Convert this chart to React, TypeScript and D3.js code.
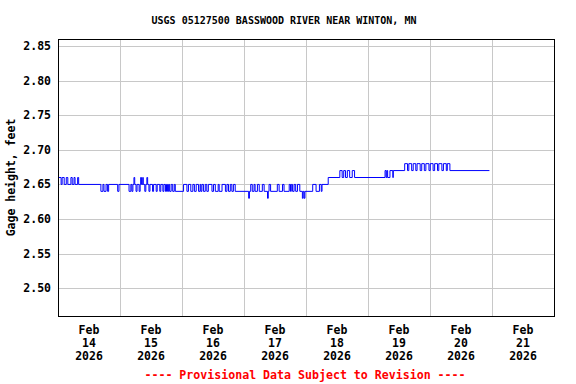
import React from 'react';
import * as d3 from 'd3';

// gage height change points: [hours since Feb 14 00:00, feet]
const feb14: [number, number][] = [
  [0, 2.66], [1.2, 2.65], [1.6, 2.66], [2.4, 2.65], [3.2, 2.66], [3.8, 2.65], [5.0, 2.66], [5.5, 2.65],
  [6.2, 2.66], [6.6, 2.65], [7.6, 2.66], [8.0, 2.65], [16.6, 2.64], [17.4, 2.65], [17.8, 2.64], [18.6, 2.65],
  [19.2, 2.64], [19.6, 2.65], [23.1, 2.64], [23.6, 2.65],
];
const feb15: [number, number][] = [
  [27.5, 2.64], [28.2, 2.65], [28.6, 2.64], [29.0, 2.65], [29.4, 2.66], [29.7, 2.65], [30.2, 2.64], [30.6, 2.65],
  [31.4, 2.64], [31.8, 2.65], [32.0, 2.66], [32.3, 2.65], [32.8, 2.66], [33.0, 2.65], [33.6, 2.64], [34.0, 2.65],
  [34.4, 2.66], [34.7, 2.65], [35.2, 2.64], [35.6, 2.65], [36.6, 2.64], [37.0, 2.65], [38.0, 2.64], [38.4, 2.65],
  [39.4, 2.64], [39.8, 2.65], [40.6, 2.64], [41.0, 2.65], [41.6, 2.64], [42.0, 2.65], [42.4, 2.64], [42.8, 2.65],
  [43.2, 2.64], [43.8, 2.65], [44.4, 2.64], [45.0, 2.65], [45.4, 2.64],
];
const feb16: [number, number][] = [
  [48.6, 2.65], [49.9, 2.64], [50.5, 2.65], [51.4, 2.64], [52.2, 2.65], [52.8, 2.64], [53.5, 2.65],
  [54.4, 2.64], [55.0, 2.65], [55.3, 2.64], [55.7, 2.65], [56.3, 2.64], [57.0, 2.65], [57.6, 2.64], [58.2, 2.65],
  [59.6, 2.64], [60.2, 2.65], [60.9, 2.64], [62.0, 2.65], [62.4, 2.64], [63.5, 2.65], [64.8, 2.64], [65.4, 2.65],
  [66.0, 2.64], [66.7, 2.65], [67.3, 2.64], [67.9, 2.65], [68.6, 2.64],
];
const feb17: [number, number][] = [
  [73.8, 2.63], [74.1, 2.64], [74.6, 2.65], [75.2, 2.64], [75.9, 2.65], [76.3, 2.64], [77.2, 2.65], [77.9, 2.64],
  [79.1, 2.65], [79.8, 2.64], [81.1, 2.63], [81.4, 2.64], [81.7, 2.65], [82.3, 2.64], [84.9, 2.65], [85.6, 2.64],
  [86.9, 2.65], [87.5, 2.64], [89.5, 2.65], [90.0, 2.64], [90.3, 2.65], [90.8, 2.64], [91.4, 2.65], [92.0, 2.64],
  [92.7, 2.65], [93.6, 2.64], [94.6, 2.63], [94.9, 2.64], [95.3, 2.63], [95.6, 2.64],
];
const feb18: [number, number][] = [
  [98.6, 2.65], [99.9, 2.64], [101.2, 2.65], [101.9, 2.64], [102.2, 2.65], [104.6, 2.66], [109.1, 2.67], [110.0, 2.66],
  [110.6, 2.67], [111.3, 2.66], [112.0, 2.67], [112.9, 2.66], [113.9, 2.67], [114.8, 2.66],
];
const feb19: [number, number][] = [
  [126.6, 2.67], [127.0, 2.66], [127.3, 2.67], [127.6, 2.66], [128.5, 2.67], [129.6, 2.66], [129.8, 2.67],
  [134.2, 2.68], [135.3, 2.67], [135.8, 2.68], [136.9, 2.67], [137.5, 2.68], [138.5, 2.67], [139.0, 2.68],
  [140.2, 2.67], [140.8, 2.68], [141.8, 2.67], [142.4, 2.68], [143.6, 2.67],
];
const feb20: [number, number][] = [
  [144.1, 2.68], [145.2, 2.67], [145.8, 2.68], [146.9, 2.67], [147.4, 2.68], [148.6, 2.67], [149.2, 2.68],
  [150.3, 2.67], [150.7, 2.68], [151.7, 2.67], [167.0, 2.67],
];

const yTicks = [2.5, 2.55, 2.6, 2.65, 2.7, 2.75, 2.8, 2.85];
const dayLabels = ['14', '15', '16', '17', '18', '19', '20', '21'];
const startDay = new Date(2026, 1, 14);
const endDay = new Date(2026, 1, 22);

const title = 'USGS 05127500 BASSWOOD RIVER NEAR WINTON, MN';
const yLabel = 'Gage height, feet';
const footer = '---- Provisional Data Subject to Revision ----';

const font = '"DejaVu Sans Mono", monospace';

export default function App() {
  const left = 58, right = 554, top = 39, bottom = 316;

  const x = d3.scaleTime().domain([startDay, endDay]).range([left, right]);
  const y = d3.scaleLinear().domain([2.46, 2.86]).range([bottom, top]);

  const points = [...feb14, ...feb15, ...feb16, ...feb17, ...feb18, ...feb19, ...feb20].map(([h, v]) => ({
    t: d3.timeMinute.offset(startDay, Math.round(h * 60)),
    v,
  }));

  const line = d3
    .line<{ t: Date; v: number }>()
    .x((d) => x(d.t))
    .y((d) => y(d.v))
    .curve(d3.curveStepAfter);

  const days = d3.timeDay.range(startDay, endDay);

  return (
    <svg
      width={576}
      height={384}
      style={{ position: 'absolute', left: 0, top: 0, background: '#fff' }}
      fontFamily={font}
      fontWeight="bold"
    >
      <rect width={576} height={384} fill="#fff" />
      <text x={284} y={24} textAnchor="middle" fontSize={10}>
        {title}
      </text>

      {/* grid */}
      {yTicks.map((v) => (
        <line key={v} x1={left} x2={right} y1={Math.round(y(v)) + 0.5} y2={Math.round(y(v)) + 0.5} stroke="#c8c8c8" />
      ))}
      {days.slice(1).map((d) => (
        <line key={+d} x1={Math.round(x(d)) + 0.5} x2={Math.round(x(d)) + 0.5} y1={top} y2={bottom} stroke="#c8c8c8" />
      ))}

      <path d={line(points) ?? ''} fill="none" stroke="#0000ff" strokeWidth={1} />

      <rect x={left + 0.5} y={top + 0.5} width={right - left} height={bottom - top} fill="none" stroke="#000" />

      {/* y axis */}
      {yTicks.map((v) => (
        <text key={v} x={51} y={y(v) + 4} textAnchor="end" fontSize={11.5}>
          {v.toFixed(2)}
        </text>
      ))}
      <text transform={`translate(15,${(top + bottom) / 2}) rotate(-90)`} textAnchor="middle" fontSize={11.5}>
        {yLabel}
      </text>

      {/* x axis labels at noon */}
      {days.map((d, i) => {
        const cx = x(d3.timeHour.offset(d, 12));
        return (
          <text key={+d} x={cx} textAnchor="middle" fontSize={11.5}>
            <tspan x={cx} y={334}>Feb</tspan>
            <tspan x={cx} y={347}>{dayLabels[i]}</tspan>
            <tspan x={cx} y={360}>{d3.timeFormat('%Y')(d)}</tspan>
          </text>
        );
      })}

      <text x={305} y={379} textAnchor="middle" fontSize={11.6} fill="#ff0000">
        {footer}
      </text>
    </svg>
  );
}
